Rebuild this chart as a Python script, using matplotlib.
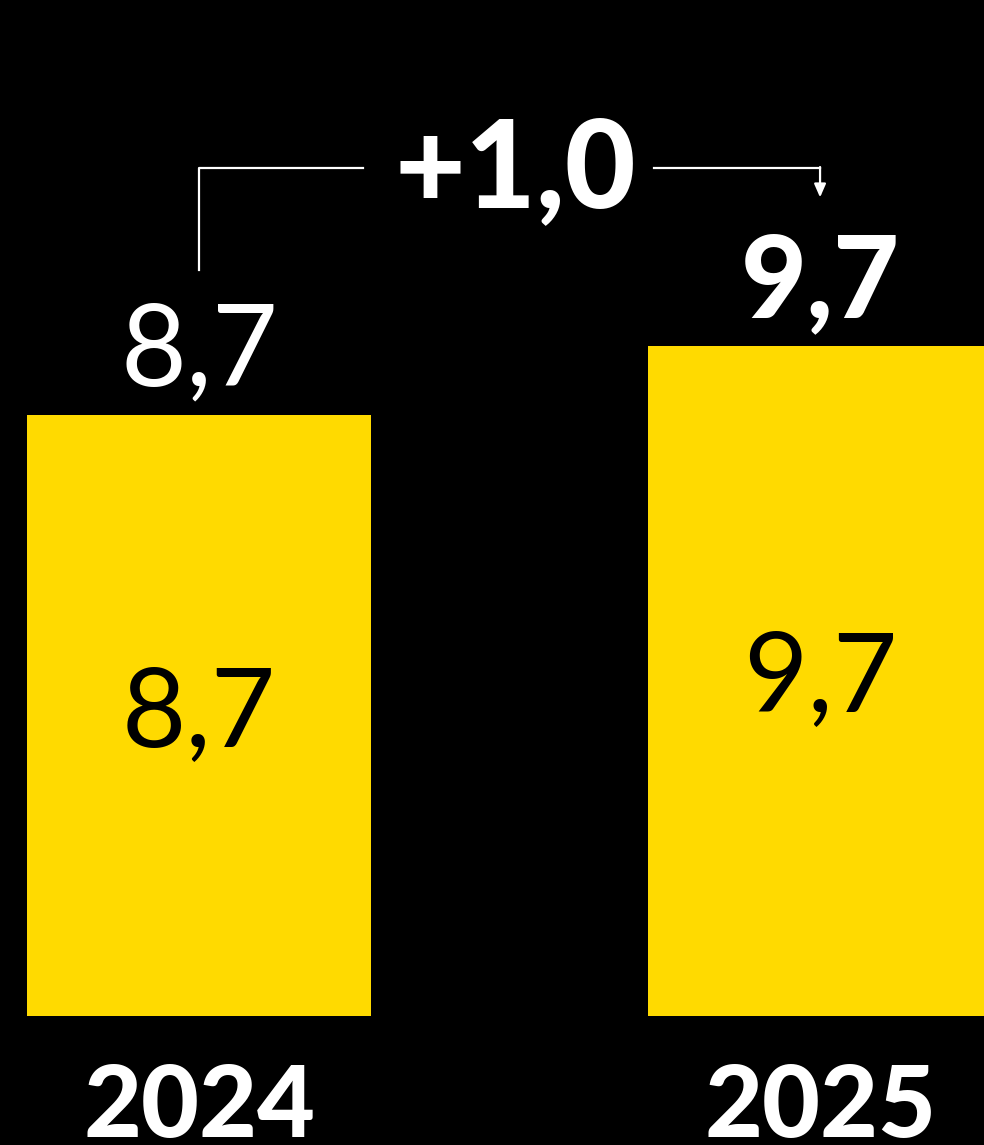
import numpy as np
import matplotlib.pyplot as plt

years = ['2024', '2025']
values = [8.7, 9.7]
diff_label = '+1,0'

yellow = '#FFDA00'

def fmt(v):
    return f'{v:.1f}'.replace('.', ',')

fig = plt.figure(figsize=(9.84, 11.45), dpi=100, facecolor='black')
ax = fig.add_axes([0, 0, 1, 1])
ax.set_facecolor('black')

x = np.arange(len(values))
ax.bar(x, values, width=0.554, color=yellow)

for xi, v, yr in zip(x, values, years):
    # value inside bar
    ax.text(xi, v / 2, fmt(v), ha='center', va='center', color='black',
            fontsize=80, family='Lato', weight='normal')
    # year below
    ax.text(xi, -1.76, yr, ha='center', va='baseline', color='white',
            fontsize=72, family='Lato', weight='black')

# labels above bars
ax.text(x[0], values[0] + 0.43, fmt(values[0]), ha='center', va='baseline',
        color='white', fontsize=82, family='Lato', weight='normal')
ax.text(x[1], values[1] + 0.43, fmt(values[1]), ha='center', va='baseline',
        color='white', fontsize=82, family='Lato', weight='black')

# connector with change
y_top = 12.29
ax.plot([x[0], x[0], 0.264], [10.81, y_top, y_top], color='white', lw=1.6)
ax.plot([0.733, x[1]], [y_top, y_top], color='white', lw=1.6)
ax.annotate('', xy=(x[1], 11.86), xytext=(x[1], y_top + 0.01),
            arrowprops=dict(arrowstyle='-|>,head_length=0.8,head_width=0.35',
                            color='white', lw=1.6, shrinkA=0, shrinkB=0))
ax.text(0.51, 11.72, diff_label, ha='center', va='baseline', color='white',
        fontsize=88, family='Lato', weight='black')

ax.set_xlim(-0.3205, 1.264)
ax.set_ylim(-1.87, 14.72)
ax.axis('off')

fig.savefig('out.png', dpi=100, facecolor='black')
